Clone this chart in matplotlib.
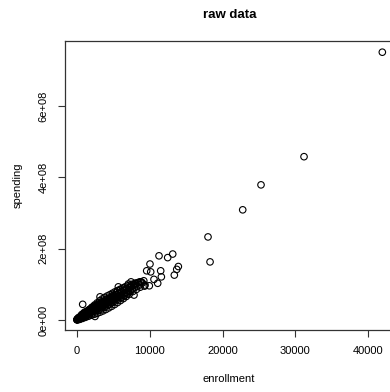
import matplotlib
matplotlib.use('Agg')
import matplotlib.pyplot as plt

plt.rcParams['font.family'] = ['Liberation Sans', 'DejaVu Sans']

# enrollment (students) and spending (millions of dollars)
enrollment = [
    30, 45, 60, 80, 95, 110, 130, 150, 170, 190, 210, 230, 250, 270, 290, 310,
    330, 350, 370, 390, 410, 430, 450, 470, 490, 510, 530, 550, 570, 590, 620,
    640, 660, 690, 710, 740, 760, 790, 810, 840, 860, 890, 910, 940, 960, 990,
    1010, 1040, 1070, 1100, 1130, 1160, 1190, 1220, 1250, 1280, 1310, 1340,
    1370, 1400, 1430, 1460, 1490,
    200, 400, 600, 820, 700, 1000, 1200, 1450, 300, 500, 750, 1150,
    1530, 1560, 1600, 1640, 1680, 1720, 1760, 1800, 1840, 1880, 1920, 1960,
    2000, 2050, 2100, 2150, 2200, 2250, 2300, 2350, 2400, 2460, 2520, 2580,
    2640, 2700, 2760, 2820, 2880, 2940, 3000, 3070, 3140, 3210, 3280, 3350,
    3420, 3490, 3560, 3630, 3700, 3780, 3860, 3940,
    1700, 2100, 2510, 2600, 3000, 3200, 3500, 2300, 1900, 2000, 2800, 3600,
    4020, 4100, 4200, 4300, 4400, 4500, 4600, 4700, 4800, 4900, 5000, 5120,
    5240, 5360, 5480, 5600, 5710, 5720, 5840, 5960, 6080, 6200, 6320, 6440,
    6560, 6680, 6800, 6920,
    4500, 5000, 5500, 6000, 6500, 4200,
    7050, 7200, 7350, 7500, 7650, 7860, 7800, 7950, 8100, 8250, 8400, 8600,
    8800, 9000, 9200, 9370, 8680, 8900, 7450, 7080, 8000,
    # lower edge of the band
    400, 800, 1200, 1600, 2000, 2400, 2800, 3200, 3600, 4000, 4400, 4800,
    5200, 5600, 6000, 6400, 6800, 7200, 7700, 8200, 8700, 9300,
    # upper edge of the band
    350, 700, 1050, 1400, 1750, 2100, 2450, 2800, 3150, 3500, 3850, 4200,
    4550, 4900, 5250, 5600, 5950, 6300, 6650, 7000, 7500, 8000, 8500,
    # inside the band
    600, 1000, 1400, 1800, 2200, 2600, 3000, 3400, 3800, 4200, 4600, 5000,
    5400, 5800, 6200, 6600, 7000, 7400,
    500, 900, 1300, 1700, 2100, 2500, 2900, 3300, 3700, 4100, 4500, 4900,
    5300, 5700, 6100, 6500, 6900, 7300,
    # the larger districts
    9600, 9960, 10050, 10150, 10600, 11110, 11290, 11520, 11610, 12480,
    13170, 13390, 13720, 13940, 18010, 18290, 22770, 25280, 31180, 41920,
]
spending_m = [
    0.6, 1.2, 0.9, 1.5, 1.1, 2.0, 1.7, 2.6, 2.1, 3.0, 2.4, 3.5, 2.9, 4.1, 3.3,
    4.6, 3.8, 5.2, 4.2, 5.8, 4.8, 6.3, 5.1, 7.0, 5.7, 7.5, 6.2, 8.1, 6.6, 8.8,
    7.2, 9.5, 7.9, 10.2, 8.3, 11.0, 8.9, 11.6, 9.6, 12.4, 10.1, 13.0, 10.7,
    13.9, 11.2, 14.5, 11.8, 15.2, 12.6, 16.0, 13.1, 16.8, 13.9, 17.5, 14.6,
    18.2, 15.3, 19.0, 16.0, 19.8, 16.7, 20.5, 17.2,
    6.0, 8.5, 12.0, 44.0, 15.5, 20.5, 23.0, 25.5, 1.5, 3.5, 6.0, 10.5,
    21.3, 18.0, 23.5, 19.2, 24.4, 20.1, 25.5, 21.2, 26.6, 22.0, 27.5, 23.1,
    28.6, 24.0, 30.0, 25.2, 31.4, 26.3, 32.5, 27.6, 33.9, 28.7, 35.3, 30.0,
    36.6, 31.2, 38.0, 32.5, 39.5, 33.6, 40.6, 35.0, 42.2, 36.3, 43.8, 37.8,
    45.3, 39.0, 46.6, 40.4, 48.2, 41.9, 49.8, 43.3,
    29.0, 34.5, 10.0, 40.5, 47.0, 65.0, 52.0, 37.5, 31.5, 22.0, 29.0, 38.0,
    51.5, 45.0, 53.8, 47.5, 56.5, 50.0, 59.0, 52.3, 61.5, 54.6, 64.0, 57.2,
    67.0, 60.0, 70.2, 62.8, 93.0, 73.5, 65.5, 76.5, 68.5, 79.8, 71.4, 82.6,
    74.2, 85.8, 77.0, 88.5,
    62.0, 70.0, 78.0, 84.0, 90.0, 60.0,
    80.5, 92.0, 84.0, 96.5, 88.0, 70.0, 100.0, 91.0, 103.0, 94.0, 105.0, 98.0,
    107.0, 104.0, 110.0, 98.0, 107.0, 106.0, 107.0, 101.0, 98.0,
    2.0, 4.5, 7.5, 10.5, 13.5, 16.0, 18.5, 22.0, 25.5, 29.5, 34.0, 38.5,
    43.5, 49.0, 54.5, 60.0, 66.0, 72.0, 80.0, 86.0, 92.0, 95.0,
    6.5, 12.0, 17.5, 23.0, 29.0, 36.0, 42.0, 48.0, 54.0, 59.0, 63.5, 67.5,
    71.0, 75.0, 79.0, 82.5, 86.0, 89.5, 93.0, 96.0, 100.0, 103.0, 105.0,
    4.8, 8.5, 12.0, 15.5, 19.5, 23.0, 27.0, 31.0, 35.0, 40.0, 44.5, 49.5,
    54.5, 59.5, 64.0, 69.0, 74.0, 80.0,
    8.0, 13.5, 19.0, 25.0, 31.0, 37.0, 42.5, 47.5, 52.5, 57.0, 61.5, 66.0,
    70.5, 75.0, 79.0, 83.5, 87.5, 91.0,
    138.0, 96.0, 157.0, 135.0, 114.0, 103.0, 180.0, 138.0, 121.0, 175.0,
    185.0, 126.0, 142.0, 150.0, 233.0, 163.0, 309.0, 379.0, 458.0, 751.0,
]
spending = [v * 1e6 for v in spending_m]

x_ticks = [0, 10000, 20000, 30000, 40000]
y_ticks = [0, 2e8, 4e8, 6e8]
y_tick_labels = ['0e+00', '2e+08', '4e+08', '6e+08']

W, H = 390, 392
fig = plt.figure(figsize=(W / 100, H / 100), dpi=100)
# plot box in pixels: left 65, top 41.5, bottom 329.5, right runs past the edge
ax = fig.add_axes([65 / W, (H - 329.5) / H, 330.3 / W, 288 / H])

ax.scatter(enrollment, spending, s=22, facecolors='none', edgecolors='black',
           linewidths=0.8, clip_on=False)

ax.set_xlim(-1605, 43700)
ax.set_ylim(-2.66e7, 7.81e8)

ax.set_xticks(x_ticks)
ax.set_xticklabels([str(t) for t in x_ticks])
ax.set_yticks(y_ticks)
ax.set_yticklabels(y_tick_labels, rotation=90, va='center')

ax.tick_params(axis='both', direction='out', length=5, width=0.8,
               labelsize=8, pad=7, color='#333333')
for side in ax.spines.values():
    side.set_linewidth(0.9)
    side.set_color('#333333')

fig.text(229.7 / W, 1 - 15 / H, 'raw data', ha='center', va='center',
         fontsize=9.5, fontweight='bold')
fig.text(229 / W, 1 - 379 / H, 'enrollment', ha='center', va='center',
         fontsize=8)
fig.text(18 / W, 1 - 185 / H, 'spending', ha='center', va='center',
         rotation=90, fontsize=8)

fig.savefig('out.png', dpi=100)
